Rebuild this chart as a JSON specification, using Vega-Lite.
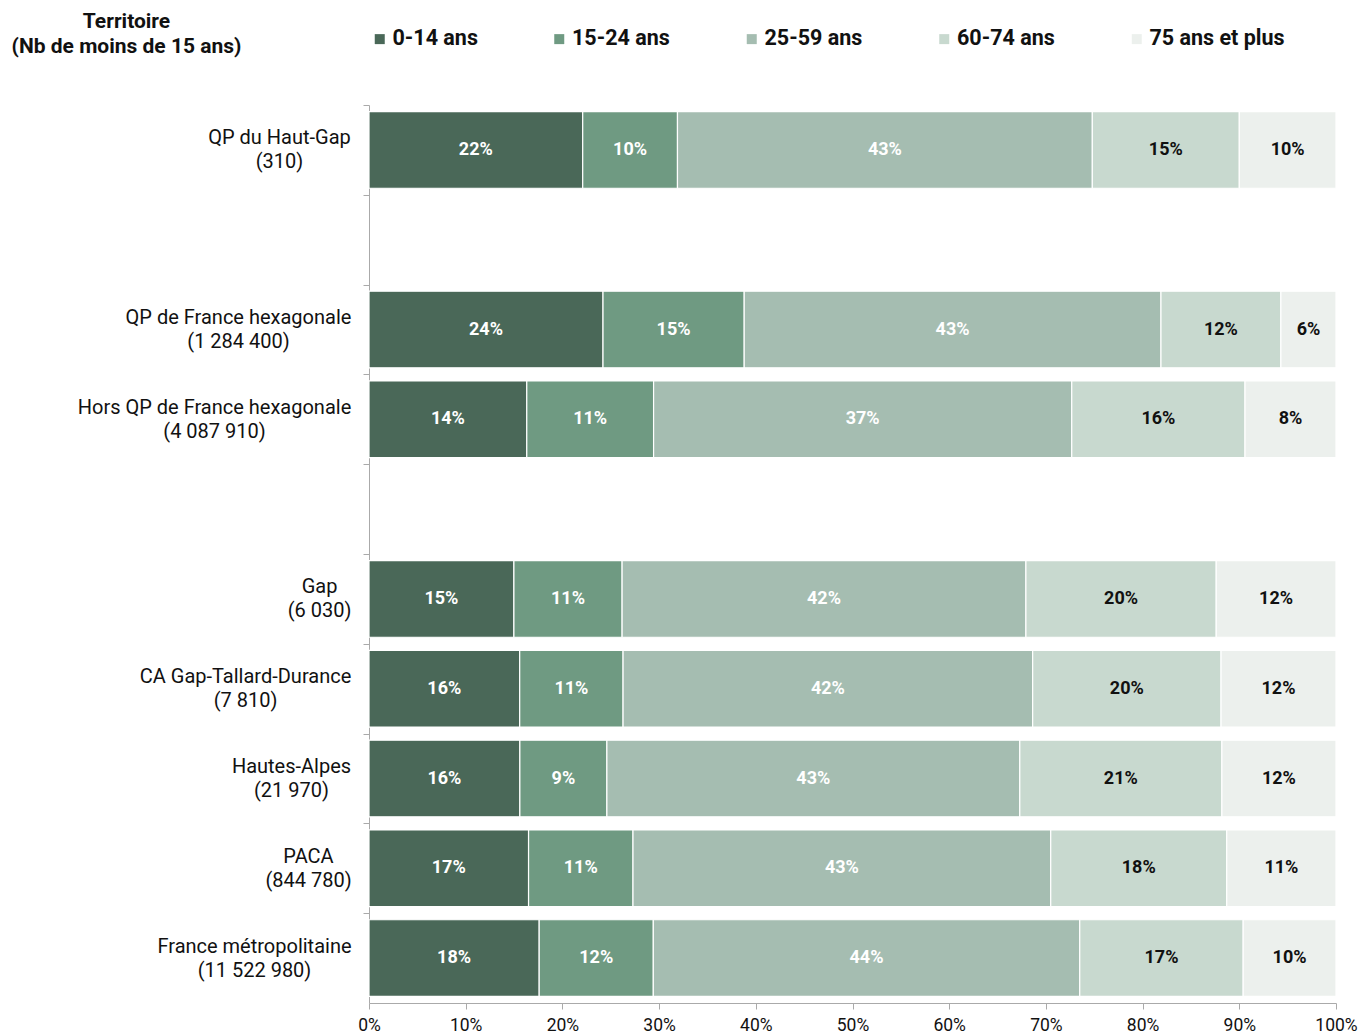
{
  "$schema": "https://vega.github.io/schema/vega-lite/v6.json",
  "width": 967,
  "height": 898,
  "autosize": "none",
  "padding": {"left": 369, "top": 105, "right": 33, "bottom": 31},
  "background": "white",
  "config": {"font": "Roboto", "view": {"stroke": null}},
  "data": {
    "values": [
      {"territoire": "QP du Haut-Gap|(310)", "age": "0-14 ans", "part": 22.1, "taux": 0.22},
      {"territoire": "QP du Haut-Gap|(310)", "age": "15-24 ans", "part": 9.8, "taux": 0.10},
      {"territoire": "QP du Haut-Gap|(310)", "age": "25-59 ans", "part": 42.9, "taux": 0.43},
      {"territoire": "QP du Haut-Gap|(310)", "age": "60-74 ans", "part": 15.2, "taux": 0.15},
      {"territoire": "QP du Haut-Gap|(310)", "age": "75 ans et plus", "part": 10.0, "taux": 0.10},
      {"territoire": "QP de France hexagonale|(1 284 400)", "age": "0-14 ans", "part": 24.2, "taux": 0.24},
      {"territoire": "QP de France hexagonale|(1 284 400)", "age": "15-24 ans", "part": 14.6, "taux": 0.15},
      {"territoire": "QP de France hexagonale|(1 284 400)", "age": "25-59 ans", "part": 43.1, "taux": 0.43},
      {"territoire": "QP de France hexagonale|(1 284 400)", "age": "60-74 ans", "part": 12.4, "taux": 0.12},
      {"territoire": "QP de France hexagonale|(1 284 400)", "age": "75 ans et plus", "part": 5.7, "taux": 0.06},
      {"territoire": "Hors QP de France hexagonale|(4 087 910)", "age": "0-14 ans", "part": 16.3, "taux": 0.14},
      {"territoire": "Hors QP de France hexagonale|(4 087 910)", "age": "15-24 ans", "part": 13.1, "taux": 0.11},
      {"territoire": "Hors QP de France hexagonale|(4 087 910)", "age": "25-59 ans", "part": 43.2, "taux": 0.37},
      {"territoire": "Hors QP de France hexagonale|(4 087 910)", "age": "60-74 ans", "part": 17.9, "taux": 0.16},
      {"territoire": "Hors QP de France hexagonale|(4 087 910)", "age": "75 ans et plus", "part": 9.4, "taux": 0.08},
      {"territoire": "Gap|(6 030)", "age": "0-14 ans", "part": 15.0, "taux": 0.15},
      {"territoire": "Gap|(6 030)", "age": "15-24 ans", "part": 11.2, "taux": 0.11},
      {"territoire": "Gap|(6 030)", "age": "25-59 ans", "part": 41.8, "taux": 0.42},
      {"territoire": "Gap|(6 030)", "age": "60-74 ans", "part": 19.7, "taux": 0.20},
      {"territoire": "Gap|(6 030)", "age": "75 ans et plus", "part": 12.4, "taux": 0.12},
      {"territoire": "CA Gap-Tallard-Durance|(7 810)", "age": "0-14 ans", "part": 15.6, "taux": 0.16},
      {"territoire": "CA Gap-Tallard-Durance|(7 810)", "age": "15-24 ans", "part": 10.7, "taux": 0.11},
      {"territoire": "CA Gap-Tallard-Durance|(7 810)", "age": "25-59 ans", "part": 42.4, "taux": 0.42},
      {"territoire": "CA Gap-Tallard-Durance|(7 810)", "age": "60-74 ans", "part": 19.5, "taux": 0.20},
      {"territoire": "CA Gap-Tallard-Durance|(7 810)", "age": "75 ans et plus", "part": 11.9, "taux": 0.12},
      {"territoire": "Hautes-Alpes|(21 970)", "age": "0-14 ans", "part": 15.6, "taux": 0.16},
      {"territoire": "Hautes-Alpes|(21 970)", "age": "15-24 ans", "part": 9.0, "taux": 0.09},
      {"territoire": "Hautes-Alpes|(21 970)", "age": "25-59 ans", "part": 42.7, "taux": 0.43},
      {"territoire": "Hautes-Alpes|(21 970)", "age": "60-74 ans", "part": 20.9, "taux": 0.21},
      {"territoire": "Hautes-Alpes|(21 970)", "age": "75 ans et plus", "part": 11.8, "taux": 0.12},
      {"territoire": "PACA|(844 780)", "age": "0-14 ans", "part": 16.5, "taux": 0.17},
      {"territoire": "PACA|(844 780)", "age": "15-24 ans", "part": 10.8, "taux": 0.11},
      {"territoire": "PACA|(844 780)", "age": "25-59 ans", "part": 43.2, "taux": 0.43},
      {"territoire": "PACA|(844 780)", "age": "60-74 ans", "part": 18.2, "taux": 0.18},
      {"territoire": "PACA|(844 780)", "age": "75 ans et plus", "part": 11.3, "taux": 0.11},
      {"territoire": "France métropolitaine|(11 522 980)", "age": "0-14 ans", "part": 17.6, "taux": 0.18},
      {"territoire": "France métropolitaine|(11 522 980)", "age": "15-24 ans", "part": 11.8, "taux": 0.12},
      {"territoire": "France métropolitaine|(11 522 980)", "age": "25-59 ans", "part": 44.1, "taux": 0.44},
      {"territoire": "France métropolitaine|(11 522 980)", "age": "60-74 ans", "part": 16.9, "taux": 0.17},
      {"territoire": "France métropolitaine|(11 522 980)", "age": "75 ans et plus", "part": 9.6, "taux": 0.10}
    ]
  },
  "encoding": {
    "y": {
      "field": "territoire",
      "type": "nominal",
      "sort": null,
      "scale": {
        "domain": [
          "QP du Haut-Gap|(310)",
          "_vide1",
          "QP de France hexagonale|(1 284 400)",
          "Hors QP de France hexagonale|(4 087 910)",
          "_vide2",
          "Gap|(6 030)",
          "CA Gap-Tallard-Durance|(7 810)",
          "Hautes-Alpes|(21 970)",
          "PACA|(844 780)",
          "France métropolitaine|(11 522 980)"
        ],
        "paddingInner": 0.146,
        "paddingOuter": 0.073
      },
      "axis": {
        "title": ["Territoire", "(Nb de moins de 15 ans)"],
        "titleAngle": 0,
        "titleX": -243,
        "titleY": -84,
        "titleAlign": "center",
        "titleBaseline": "middle",
        "titleFontSize": 21,
        "titleFontWeight": "bold",
        "titleColor": "#111111",
        "titleLineHeight": 25,
        "labelExpr": "indexof(datum.value, '|') >= 0 ? split(datum.value, '|') : ''",
        "labelFontSize": 20,
        "labelLineHeight": 24,
        "labelColor": "#111111",
        "labelAlign": "center",
        "labelBaseline": "middle",
        "tickOffset": -44.9,
        "labelOffset": 32.9,
        "labelPadding": {
          "condition": [
            {"test": "datum.value === 'QP du Haut-Gap|(310)'", "value": 84},
            {"test": "datum.value === 'QP de France hexagonale|(1 284 400)'", "value": 125},
            {"test": "datum.value === 'Hors QP de France hexagonale|(4 087 910)'", "value": 149},
            {"test": "datum.value === 'Gap|(6 030)'", "value": 44},
            {"test": "datum.value === 'CA Gap-Tallard-Durance|(7 810)'", "value": 118},
            {"test": "datum.value === 'Hautes-Alpes|(21 970)'", "value": 72},
            {"test": "datum.value === 'PACA|(844 780)'", "value": 55},
            {"test": "datum.value === 'France métropolitaine|(11 522 980)'", "value": 109}
          ],
          "value": 12
        },
        "labelLimit": 400,
        "tickSize": 6,
        "domainColor": "#aaaaaa",
        "tickColor": "#aaaaaa",
        "grid": false
      }
    }
  },
  "layer": [
    {
      "mark": {"type": "bar", "stroke": "white", "strokeWidth": 1.2},
      "encoding": {
        "x": {
          "field": "part",
          "type": "quantitative",
          "stack": "normalize",
          "scale": {"domain": [0, 1], "nice": false},
          "axis": {
            "title": null,
            "format": ".0%",
            "values": [0, 0.1, 0.2, 0.3, 0.4, 0.5, 0.6, 0.7, 0.8, 0.9, 1],
            "labelFontSize": 17.5,
            "labelColor": "#111111",
            "labelFlush": false,
            "labelPadding": 7,
            "tickSize": 6,
            "domainColor": "#aaaaaa",
            "tickColor": "#aaaaaa",
            "grid": false
          }
        },
        "color": {
          "field": "age",
          "type": "nominal",
          "scale": {
            "domain": ["0-14 ans", "15-24 ans", "25-59 ans", "60-74 ans", "75 ans et plus"],
            "range": ["#4a6858", "#6f9a82", "#a5bdb1", "#c8d9cf", "#ecf0ed"]
          },
          "legend": {
            "title": null,
            "orient": "none",
            "legendX": 0,
            "legendY": -77,
            "direction": "horizontal",
            "symbolType": "square",
            "symbolSize": 100,
            "symbolStrokeWidth": 0,
            "labelFontSize": 21.5,
            "labelFontWeight": "bold",
            "labelColor": "#111111",
            "labelOffset": 2,
            "columnPadding": 70.5,
            "labelLimit": 300
          }
        }
      }
    },
    {
      "transform": [
        {"joinaggregate": [{"op": "sum", "field": "part", "as": "total"}], "groupby": ["territoire"]},
        {"window": [{"op": "sum", "field": "part", "as": "cumul"}], "groupby": ["territoire"], "sort": [{"field": "age"}], "frame": [null, 0]},
        {"calculate": "(datum.cumul - datum.part / 2) / datum.total", "as": "milieu"}
      ],
      "mark": {"type": "text", "fontSize": 18, "fontWeight": "bold", "baseline": "middle", "align": "center"},
      "encoding": {
        "x": {"field": "milieu", "type": "quantitative"},
        "text": {"field": "taux", "type": "quantitative", "format": ".0%"},
        "color": {
          "condition": {"test": "datum.age === '60-74 ans' || datum.age === '75 ans et plus'", "value": "#111111"},
          "value": "white"
        }
      }
    }
  ]
}
